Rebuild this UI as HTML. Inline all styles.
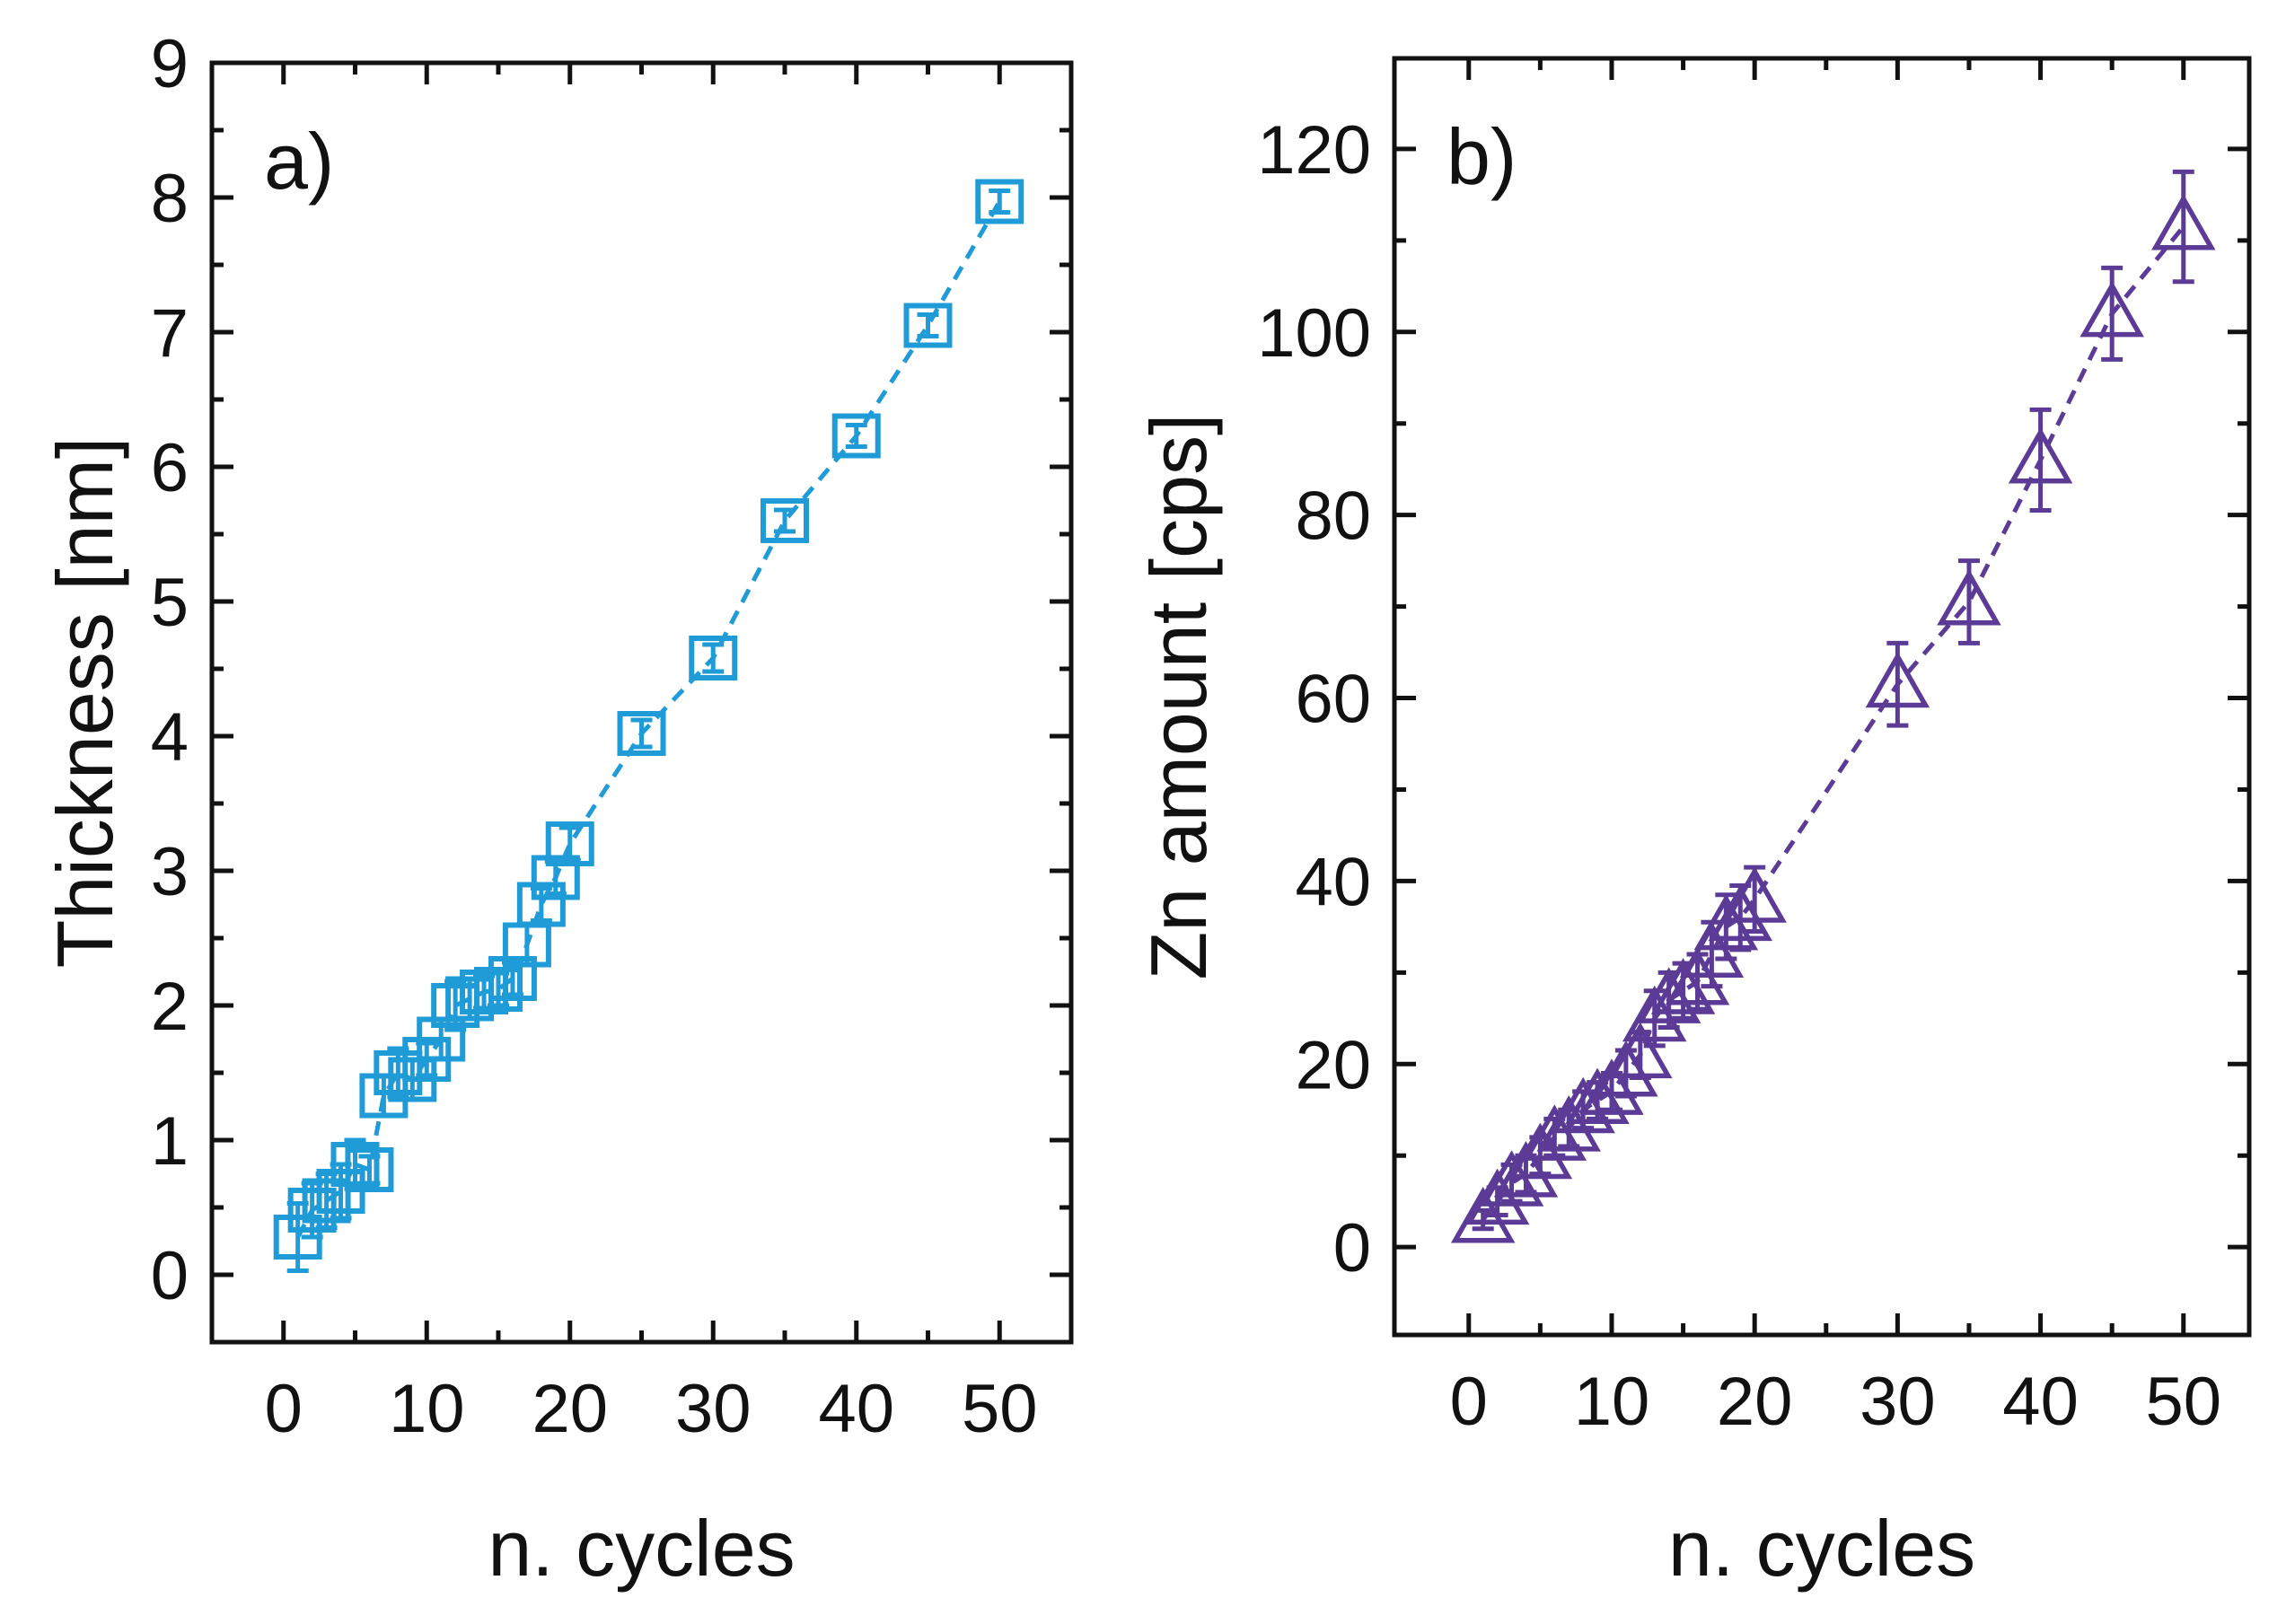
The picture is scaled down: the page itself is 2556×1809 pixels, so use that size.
<!DOCTYPE html>
<html><head><meta charset="utf-8"><style>
html,body{margin:0;padding:0;background:#fff}
svg text{font-family:"Liberation Sans",sans-serif;fill:#111}
</style></head><body>
<svg id="c" width="2556" height="1804" xmlns="http://www.w3.org/2000/svg"></svg>
<script>
const xA=[1,2,3,4,5,6,7,8,9,10,11,12,13,14,15,16,17,18,19,20,25,30,35,40,45,50];
const yA=[0.28,0.48,0.55,0.62,0.82,0.78,1.33,1.5,1.45,1.6,1.75,2.0,2.05,2.1,2.12,2.2,2.45,2.75,2.95,3.2,4.02,4.58,5.6,6.23,7.05,7.97];
const eA=[0.25,0.2,0.2,0.2,0.18,0.1,0.15,0.18,0.15,0.12,0.15,0.18,0.15,0.12,0.12,0.12,0.15,0.12,0.12,0.12,0.1,0.1,0.08,0.08,0.08,0.08];
const xB=[1,2,3,4,5,6,7,8,9,10,11,12,13,14,15,16,17,18,19,20,30,35,40,45,50];
const yB=[3,5,7,8,10,12,13,15,16,17,19,21,25,27,28,29,32,35,36,38,61.5,70.5,86,102,111.5];
const eB=[1,1.5,2,2,2,2,2,2,2,2,2.5,2.5,3,3,3,3,3.5,3.5,3.5,3.5,4.5,4.5,5.5,5,6];
const ticksXA=[0,10,20,30,40,50], ticksYA=[0,1,2,3,4,5,6,7,8,9];
const ticksXB=[0,10,20,30,40,50], ticksYB=[0,20,40,60,80,100,120];
const svg=document.getElementById('c');
const NS='http://www.w3.org/2000/svg';
function mk(t,a,p){const e=document.createElementNS(NS,t);for(const k in a)e.setAttribute(k,a[k]);(p||svg).appendChild(e);return e;}
function panel(o){
  const g=mk('g',{});
  
  
  const sx=v=>o.L+(v-o.x0)/(o.x1-o.x0)*(o.R-o.L);
  const sy=v=>o.B-(v-o.y0)/(o.y1-o.y0)*(o.B-o.T);
  let d='';o.xs.forEach((x,i)=>{d+=(i?'L':'M')+sx(x)+' '+sy(o.ys[i]);});
  const ln=mk('path',{d:d,fill:'none',stroke:o.col,'stroke-width':5,'stroke-dasharray':'16 11'},g);
  
  o.xs.forEach((x,i)=>{
    const cx=sx(x),cy=sy(o.ys[i]),t=sy(o.ys[i]+o.es[i]),b=sy(o.ys[i]-o.es[i]);
    const eb=mk('path',{d:`M${cx} ${t}V${b}M${cx-12} ${t}H${cx+12}M${cx-12} ${b}H${cx+12}`,stroke:o.col,'stroke-width':5,fill:'none'},g);
    
    let m;
    if(o.tri){const s=31;m=mk('path',{d:`M${cx} ${cy-s}L${cx+s} ${cy+s*0.75}L${cx-s} ${cy+s*0.75}Z`,fill:'none',stroke:o.col,'stroke-width':5.5},g);}
    else{m=mk('rect',{x:cx-24,y:cy-22,width:48,height:44,fill:'none',stroke:o.col,'stroke-width':6},g);}
    
  });
  const fr=mk('rect',{x:o.L,y:o.T,width:o.R-o.L,height:o.B-o.T,fill:'none',stroke:'#111','stroke-width':5},g);
  
  const stepX=o.tx[1]-o.tx[0];
  for(let v=o.tx[0];v<=o.tx[o.tx.length-1];v+=stepX/2){
    const major=o.tx.includes(v),len=major?24:13,x=sx(v);
    mk('path',{d:`M${x} ${o.B}v${-len}M${x} ${o.T}v${len}`,stroke:'#111','stroke-width':5},g);
  }
  o.tx.forEach(v=>{const t=mk('text',{x:sx(v),y:o.B+100,'font-size':76,'text-anchor':'middle'},g);t.textContent=v;
    });
  const stepY=o.ty[1]-o.ty[0];
  for(let v=o.ty[0];v<=o.y1;v+=stepY/2){
    const major=o.ty.includes(v),len=major?24:13,y=sy(v);
    mk('path',{d:`M${o.L} ${y}h${len}M${o.R} ${y}h${-len}`,stroke:'#111','stroke-width':5},g);
  }
  o.ty.forEach(v=>{const t=mk('text',{x:o.L-26,y:sy(v)+27,'font-size':76,'text-anchor':'end'},g);t.textContent=v;
    });
  const xt=mk('text',{x:(o.L+o.R)/2,y:1755,'font-size':88,'text-anchor':'middle'},g);xt.textContent='n. cycles';
  
  const yt=mk('text',{x:0,y:0,'font-size':88,'text-anchor':'middle',transform:`translate(${o.ytx},${(o.T+o.B)/2}) rotate(-90)`},g);yt.textContent=o.ylab;
  
  const pl=mk('text',{x:o.L+58,y:o.T+140,'font-size':88},g);pl.textContent=o.lab;
  
}
panel({name:'panel-a-thickness',L:236,R:1193,T:70,B:1495,x0:-5,x1:55,y0:-0.5,y1:9,xs:xA,ys:yA,es:eA,tx:ticksXA,ty:ticksYA,col:'#1f9bd7',tri:false,ylab:'Thickness [nm]',ytx:125,lab:'a)'});
panel({name:'panel-b-zn-amount',L:1553,R:2505,T:65,B:1487,x0:-5.2,x1:54.6,y0:-9.6,y1:129.9,xs:xB,ys:yB,es:eB,tx:ticksXB,ty:ticksYB,col:'#5c3b97',tri:true,ylab:'Zn amount [cps]',ytx:1343,lab:'b)'});
</script>
</body></html>
